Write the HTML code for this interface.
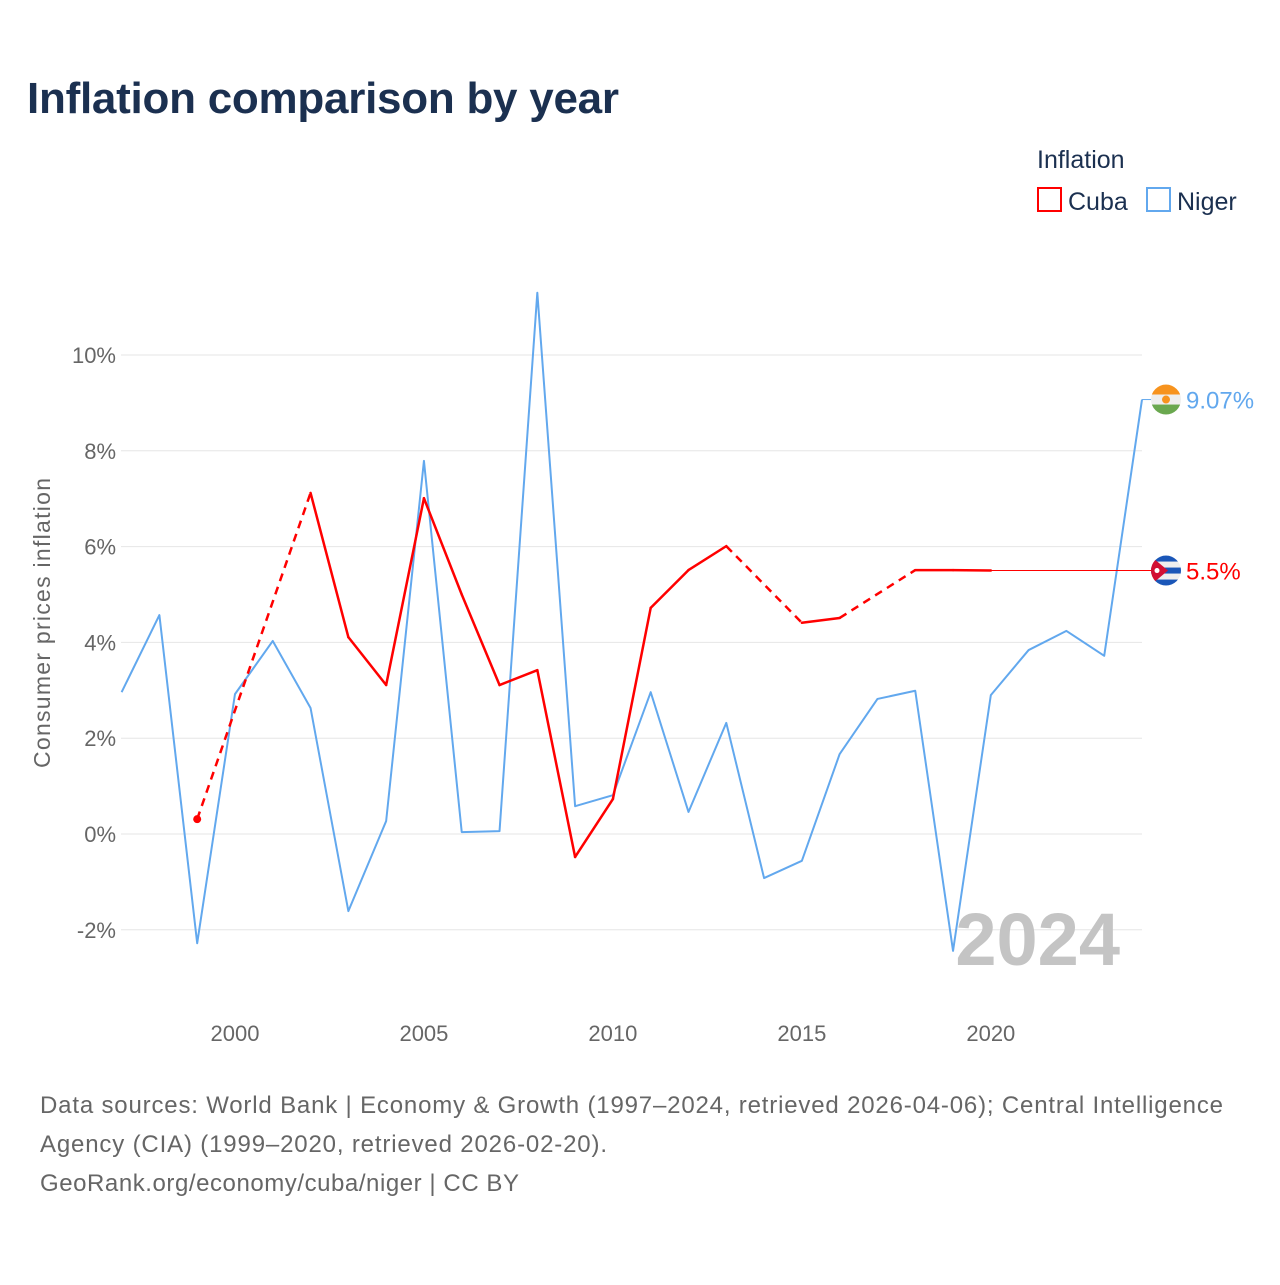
<!DOCTYPE html>
<html><head><meta charset="utf-8"><style>
body{margin:0;background:#fff;font-family:"Liberation Sans",sans-serif;}
svg text{font-family:"Liberation Sans",sans-serif;}
</style></head><body>
<svg id="c" width="1280" height="1280" xmlns="http://www.w3.org/2000/svg">
<rect width="1280" height="1280" fill="#fff"/>
<text x="27" y="113" font-size="44" font-weight="bold" fill="#1b3050" textLength="592">Inflation comparison by year</text>
<g>
<text x="1037" y="168" font-size="25" fill="#1b3050">Inflation</text>
<g><rect x="1038" y="188" width="23" height="23" fill="none" stroke="#ff0000" stroke-width="2"/><text x="1068" y="210" font-size="25" fill="#1b3050">Cuba</text></g>
<g><rect x="1147" y="188" width="23" height="23" fill="none" stroke="#62a8ee" stroke-width="2"/><text x="1177" y="210" font-size="25" fill="#1b3050">Niger</text></g>
</g>
<g id="grid"></g>
<g id="yticks"></g>
<g id="xticks"></g>
<text transform="translate(50,623) rotate(-90)" text-anchor="middle" font-size="23" fill="#666" textLength="290">Consumer prices inflation</text>
<text x="1120" y="965" text-anchor="end" font-size="74" font-weight="bold" fill="#c4c4c4">2024</text>
<g id="series"></g>
<g id="ends"></g>
<g font-size="24" fill="#666">
<text x="40" y="1113" textLength="1183">Data sources: World Bank | Economy &amp; Growth (1997–2024, retrieved 2026-04-06); Central Intelligence</text>
<text x="40" y="1152" textLength="567">Agency (CIA) (1999–2020, retrieved 2026-02-20).</text>
<text x="40" y="1191" textLength="479">GeoRank.org/economy/cuba/niger | CC BY</text>
</g>
</svg>
<script>
const years=[1997,1998,1999,2000,2001,2002,2003,2004,2005,2006,2007,2008,2009,2010,2011,2012,2013,2014,2015,2016,2017,2018,2019,2020,2021,2022,2023,2024];
const niger=[2.96,4.57,-2.28,2.92,4.03,2.63,-1.61,0.27,7.79,0.04,0.06,11.3,0.58,0.81,2.96,0.46,2.32,-0.92,-0.56,1.67,2.82,2.99,-2.44,2.90,3.84,4.24,3.72,9.07];
const cuba=[null,null,0.31,null,null,7.12,4.11,3.11,7.01,5.0,3.11,3.42,-0.48,0.73,4.72,5.51,6.01,null,4.41,4.51,null,5.51,5.51,5.5,null,null,null,null];
const yTicks=[-2,0,2,4,6,8,10];
const xTicks=[2000,2005,2010,2015,2020];
const cubaLast=5.5, nigerLast=9.07;
const X=y=>121.6+(y-1997)*(1142-121.6)/27;
const Y=v=>834-v*47.9;
const NS="http://www.w3.org/2000/svg";
function mk(t,a,p){const e=document.createElementNS(NS,t);for(const k in a)e.setAttribute(k,a[k]);p.appendChild(e);return e;}
const grid=document.getElementById('grid'),yt=document.getElementById('yticks'),xt=document.getElementById('xticks');
yTicks.forEach(v=>{
 const l=mk('line',{x1:121,x2:1142,y1:Y(v),y2:Y(v),stroke:'#e6e6e6','stroke-width':1},grid);
 
 
 const t=mk('text',{x:116,y:Y(v)+8,'text-anchor':'end','font-size':22,fill:'#666'},yt);
 t.textContent=v+'%';
 
 
});
xTicks.forEach(v=>{
 const t=mk('text',{x:X(v),y:1041,'text-anchor':'middle','font-size':22,fill:'#666'},xt);
 t.textContent=v;
 
 
});
const sg=document.getElementById('series');
const np=mk('polyline',{points:years.map((y,i)=>X(y)+','+Y(niger[i])).join(' '),fill:'none',stroke:'#62a8ee','stroke-width':2,'stroke-linejoin':'round'},sg);


const pts=[];years.forEach((y,i)=>{if(cuba[i]!==null)pts.push([i,y,cuba[i]]);});
for(let k=0;k<pts.length-1;k++){
 const a=pts[k],b=pts[k+1];const gap=b[0]-a[0]>1;
 const l=mk('line',{x1:X(a[1]),y1:Y(a[2]),x2:X(b[1]),y2:Y(b[2]),stroke:'#ff0000','stroke-width':2.5,'stroke-linecap':gap?'butt':'round'},sg);
 if(gap)l.setAttribute('stroke-dasharray','8,6');
 
 
}
const d0=mk('circle',{cx:X(pts[0][1]),cy:Y(pts[0][2]),r:4,fill:'#ff0000'},sg);


const lastC=pts[pts.length-1];
const cl=mk('line',{x1:X(lastC[1]),y1:Y(cubaLast),x2:1160,y2:Y(cubaLast),stroke:'#ff0000','stroke-width':1},sg);


const nl=mk('polyline',{points:X(2024)+','+Y(nigerLast)+' 1152,'+Y(nigerLast),fill:'none',stroke:'#62a8ee','stroke-width':1},sg);


const eg=document.getElementById('ends');
const ny=Y(nigerLast),cy=Y(cubaLast);
const nf=mk('g',{},eg);


const cpn=mk('clipPath',{id:'cn'},nf);mk('circle',{cx:1166,cy:ny,r:15},cpn);
const gn=mk('g',{'clip-path':'url(#cn)'},nf);
mk('rect',{x:1150,y:ny-15,width:32,height:10,fill:'#f7931e'},gn);
mk('rect',{x:1150,y:ny-5,width:32,height:10,fill:'#eee'},gn);
mk('rect',{x:1150,y:ny+5,width:32,height:10,fill:'#6aa84f'},gn);
mk('circle',{cx:1166,cy:ny,r:4,fill:'#f7931e'},gn);
const cf=mk('g',{},eg);


const cp=mk('clipPath',{id:'cc'},cf);mk('circle',{cx:1166,cy:cy,r:15},cp);
const gc=mk('g',{'clip-path':'url(#cc)'},cf);
mk('rect',{x:1150,y:cy-15,width:32,height:30,fill:'#eee'},gc);
[-15,-3,9].forEach(o=>mk('rect',{x:1150,y:cy+o,width:32,height:6,fill:'#1a56b8'},gc));
mk('polygon',{points:`1150,${cy-15} 1168,${cy} 1150,${cy+15}`,fill:'#d21034'},gc);
mk('circle',{cx:1157,cy:cy,r:2.5,fill:'#fff'},gc);
const nt=mk('text',{x:1186,y:ny+9,'font-size':24,fill:'#62a8ee'},eg);
nt.textContent=nigerLast+'%';


const ct=mk('text',{x:1186,y:cy+9,'font-size':24,fill:'#ff0000'},eg);
ct.textContent=cubaLast+'%';


</script>
</body></html>
